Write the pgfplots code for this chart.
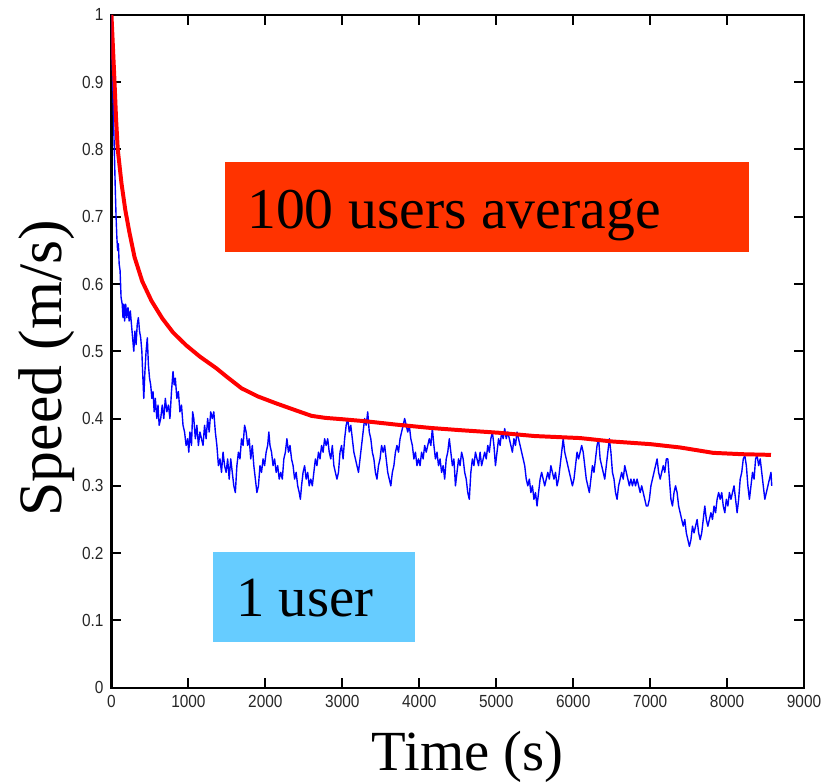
\documentclass[border=0pt]{standalone}
\usepackage{fontspec}
\setmainfont{Liberation Serif}
\newfontfamily\tickfont[FakeStretch=0.88]{Liberation Sans}
\usepackage{pgfplots}
\pgfplotsset{compat=1.18}
\definecolor{boxred}{HTML}{FF3300}
\definecolor{boxblue}{HTML}{66CCFF}
\begin{document}
\begin{tikzpicture}
\useasboundingbox (-56pt,-47.5pt) rectangle (357.5pt,345.5pt);
\begin{axis}[
  scale only axis, width=348pt, height=338pt,
  at={(0,0)}, anchor=south west,
  xmin=0, xmax=9000, ymin=0, ymax=1,
  xtick={0,1000,...,9000}, ytick={0,0.1,...,1},
  yticklabels={0,0.1,0.2,0.3,0.4,0.5,0.6,0.7,0.8,0.9,1},
  scaled x ticks=false,
  xticklabel style={/pgf/number format/1000 sep={}},
  /pgf/number format/assume math mode=true,
  ticklabel style={font=\tickfont\fontsize{8.8}{10}\selectfont, text=black!85},
  tick align=inside, major tick length=5pt,
  every tick/.style={black, line width=1pt},
  axis line style={line width=1.1pt},
  xticklabel style={yshift=-0.5pt},
  yticklabel style={xshift=-0.5pt},
]
\addplot[blue, line width=0.7pt, line join=round] coordinates {
(0,1.00)(10,0.93)(17,0.90)(28,0.84)(39,0.79)(50,0.74)(60,0.70)(70,0.67)(80,0.65)(90,0.66)(100,0.63)(112,0.62)(125,0.58)(140,0.57)(150,0.55)(160,0.57)(172,0.545)(185,0.57)(200,0.55)(215,0.565)(230,0.545)(245,0.56)(260,0.54)(275,0.52)(290,0.50)(305,0.53)(320,0.51)(335,0.54)(350,0.55)(365,0.53)(380,0.52)(395,0.50)(405,0.47)(420,0.43)(435,0.47)(450,0.50)(466,0.52)(480,0.48)(495,0.46)(510,0.45)(525,0.43)(540,0.44)(555,0.41)(570,0.43)(590,0.40)(605,0.42)(620,0.39)(640,0.40)(660,0.42)(680,0.40)(700,0.43)(720,0.41)(740,0.42)(760,0.40)(780,0.44)(800,0.47)(815,0.45)(830,0.46)(850,0.43)(870,0.44)(890,0.41)(910,0.42)(930,0.39)(950,0.38)(970,0.36)(990,0.37)(1005,0.35)(1020,0.38)(1040,0.36)(1055,0.41)(1070,0.40)(1090,0.37)(1110,0.39)(1130,0.36)(1150,0.38)(1170,0.37)(1190,0.36)(1210,0.39)(1230,0.37)(1250,0.40)(1270,0.38)(1290,0.41)(1310,0.40)(1330,0.41)(1350,0.38)(1370,0.36)(1390,0.33)(1410,0.34)(1430,0.32)(1450,0.35)(1470,0.33)(1490,0.32)(1510,0.34)(1530,0.31)(1550,0.34)(1570,0.32)(1590,0.30)(1610,0.29)(1630,0.33)(1650,0.35)(1670,0.34)(1690,0.37)(1710,0.36)(1730,0.39)(1750,0.38)(1770,0.36)(1790,0.37)(1810,0.34)(1830,0.36)(1850,0.33)(1870,0.31)(1890,0.29)(1910,0.30)(1930,0.33)(1950,0.32)(1970,0.34)(1990,0.33)(2010,0.35)(2030,0.36)(2045,0.38)(2060,0.36)(2080,0.35)(2100,0.33)(2120,0.34)(2140,0.32)(2160,0.33)(2180,0.31)(2200,0.32)(2220,0.31)(2240,0.34)(2260,0.35)(2280,0.37)(2300,0.35)(2320,0.36)(2340,0.34)(2360,0.33)(2380,0.31)(2400,0.32)(2420,0.30)(2440,0.29)(2455,0.28)(2470,0.30)(2490,0.32)(2510,0.33)(2530,0.31)(2550,0.32)(2570,0.30)(2590,0.31)(2610,0.30)(2630,0.32)(2650,0.34)(2670,0.33)(2690,0.35)(2710,0.34)(2730,0.36)(2750,0.35)(2770,0.37)(2790,0.36)(2810,0.37)(2830,0.35)(2850,0.34)(2870,0.36)(2890,0.33)(2910,0.32)(2930,0.31)(2950,0.32)(2970,0.35)(2990,0.36)(3010,0.34)(3030,0.37)(3050,0.39)(3070,0.40)(3090,0.38)(3110,0.39)(3130,0.37)(3150,0.35)(3170,0.34)(3190,0.33)(3210,0.32)(3230,0.34)(3250,0.36)(3270,0.38)(3290,0.40)(3310,0.39)(3330,0.41)(3350,0.38)(3370,0.37)(3390,0.35)(3410,0.34)(3430,0.32)(3450,0.31)(3470,0.33)(3490,0.34)(3510,0.36)(3530,0.35)(3550,0.36)(3570,0.34)(3590,0.32)(3610,0.31)(3630,0.30)(3650,0.32)(3670,0.33)(3690,0.35)(3710,0.36)(3730,0.35)(3750,0.37)(3770,0.38)(3790,0.39)(3810,0.40)(3830,0.39)(3850,0.38)(3870,0.39)(3890,0.37)(3910,0.36)(3930,0.34)(3950,0.35)(3970,0.33)(3990,0.34)(4010,0.33)(4030,0.35)(4050,0.34)(4070,0.36)(4090,0.35)(4110,0.36)(4130,0.37)(4150,0.36)(4170,0.385)(4190,0.36)(4210,0.34)(4230,0.35)(4250,0.33)(4270,0.34)(4290,0.32)(4310,0.33)(4330,0.31)(4350,0.34)(4370,0.35)(4390,0.37)(4410,0.35)(4430,0.33)(4450,0.34)(4470,0.30)(4490,0.32)(4510,0.34)(4530,0.33)(4550,0.35)(4570,0.34)(4590,0.32)(4610,0.31)(4630,0.29)(4650,0.28)(4670,0.32)(4690,0.34)(4710,0.33)(4730,0.35)(4750,0.34)(4770,0.33)(4790,0.35)(4810,0.33)(4830,0.34)(4850,0.35)(4870,0.34)(4890,0.36)(4910,0.35)(4930,0.37)(4950,0.38)(4970,0.36)(4990,0.33)(5010,0.35)(5030,0.37)(5050,0.36)(5070,0.38)(5090,0.37)(5110,0.385)(5130,0.37)(5150,0.38)(5170,0.37)(5190,0.36)(5210,0.35)(5230,0.37)(5250,0.36)(5270,0.38)(5290,0.37)(5310,0.36)(5330,0.35)(5350,0.34)(5370,0.33)(5390,0.31)(5410,0.30)(5430,0.31)(5450,0.29)(5470,0.30)(5490,0.28)(5510,0.29)(5530,0.27)(5550,0.29)(5570,0.31)(5590,0.32)(5610,0.31)(5630,0.30)(5650,0.31)(5670,0.32)(5690,0.31)(5710,0.33)(5730,0.32)(5750,0.31)(5770,0.32)(5790,0.30)(5810,0.31)(5830,0.33)(5850,0.35)(5870,0.37)(5890,0.35)(5910,0.34)(5930,0.33)(5950,0.32)(5970,0.31)(5990,0.30)(6010,0.31)(6030,0.33)(6050,0.35)(6070,0.34)(6090,0.35)(6110,0.36)(6130,0.35)(6150,0.33)(6170,0.31)(6190,0.30)(6210,0.29)(6230,0.31)(6250,0.33)(6270,0.32)(6290,0.34)(6310,0.36)(6330,0.37)(6350,0.34)(6370,0.33)(6390,0.32)(6410,0.31)(6430,0.33)(6450,0.35)(6470,0.37)(6490,0.35)(6510,0.32)(6530,0.31)(6550,0.29)(6570,0.28)(6590,0.30)(6610,0.31)(6630,0.32)(6650,0.31)(6670,0.33)(6690,0.32)(6710,0.31)(6730,0.30)(6750,0.31)(6770,0.30)(6790,0.31)(6810,0.30)(6830,0.31)(6850,0.30)(6870,0.29)(6890,0.30)(6910,0.29)(6930,0.28)(6950,0.27)(6970,0.27)(6990,0.28)(7010,0.30)(7030,0.31)(7050,0.32)(7070,0.33)(7090,0.34)(7110,0.32)(7130,0.31)(7150,0.32)(7170,0.33)(7190,0.32)(7210,0.34)(7230,0.34)(7250,0.31)(7270,0.28)(7290,0.27)(7310,0.29)(7330,0.30)(7350,0.29)(7370,0.27)(7390,0.26)(7410,0.25)(7430,0.24)(7450,0.25)(7470,0.23)(7490,0.22)(7510,0.21)(7530,0.22)(7550,0.24)(7570,0.23)(7590,0.24)(7610,0.25)(7630,0.23)(7650,0.22)(7670,0.23)(7690,0.25)(7710,0.27)(7730,0.25)(7750,0.24)(7770,0.25)(7790,0.26)(7810,0.25)(7830,0.27)(7850,0.26)(7870,0.28)(7890,0.29)(7910,0.28)(7930,0.29)(7950,0.27)(7970,0.26)(7990,0.28)(8010,0.27)(8030,0.29)(8050,0.28)(8070,0.29)(8090,0.30)(8110,0.28)(8130,0.26)(8150,0.28)(8170,0.31)(8190,0.32)(8210,0.34)(8230,0.345)(8250,0.33)(8270,0.30)(8290,0.28)(8310,0.30)(8330,0.32)(8350,0.31)(8370,0.34)(8390,0.345)(8410,0.33)(8430,0.34)(8450,0.32)(8470,0.30)(8490,0.28)(8510,0.29)(8530,0.30)(8550,0.31)(8570,0.32)(8580,0.30)
};
\addplot[red, line width=2pt, line join=round] coordinates {
(0,1.0)(20,0.95)(40,0.90)(60,0.845)(82,0.80)(130,0.75)(180,0.71)(233,0.677)(300,0.64)(400,0.604)(520,0.575)(660,0.549)(800,0.528)(970,0.509)(1150,0.492)(1360,0.475)(1500,0.462)(1690,0.445)(1900,0.433)(2130,0.423)(2400,0.412)(2600,0.404)(2780,0.401)(3000,0.399)(3300,0.396)(3700,0.391)(4150,0.386)(4500,0.383)(5020,0.379)(5500,0.374)(6090,0.371)(6500,0.366)(7000,0.362)(7390,0.357)(7820,0.349)(8200,0.347)(8570,0.346)
};
\end{axis}
\fill[boxred] (57pt,219pt) rectangle (320.5pt,264pt);
\node[anchor=base west, inner sep=0pt, font=\fontsize{29}{31}\selectfont] at (68pt,230.5pt) {100 users average};
\fill[boxblue] (51pt,23pt) rectangle (152.5pt,68pt);
\node[anchor=base west, inner sep=0pt, font=\fontsize{28.5}{30}\selectfont] at (62.5pt,35.5pt) {1 user};
\node[anchor=base, rotate=90, inner sep=0pt, font=\fontsize{31}{33}\selectfont] at (-25pt,160.5pt) {Speed (m/s)};
\node[anchor=base, inner sep=0pt, font=\fontsize{28.5}{30}\selectfont] at (179pt,-41.5pt) {Time (s)};
\end{tikzpicture}
\end{document}
